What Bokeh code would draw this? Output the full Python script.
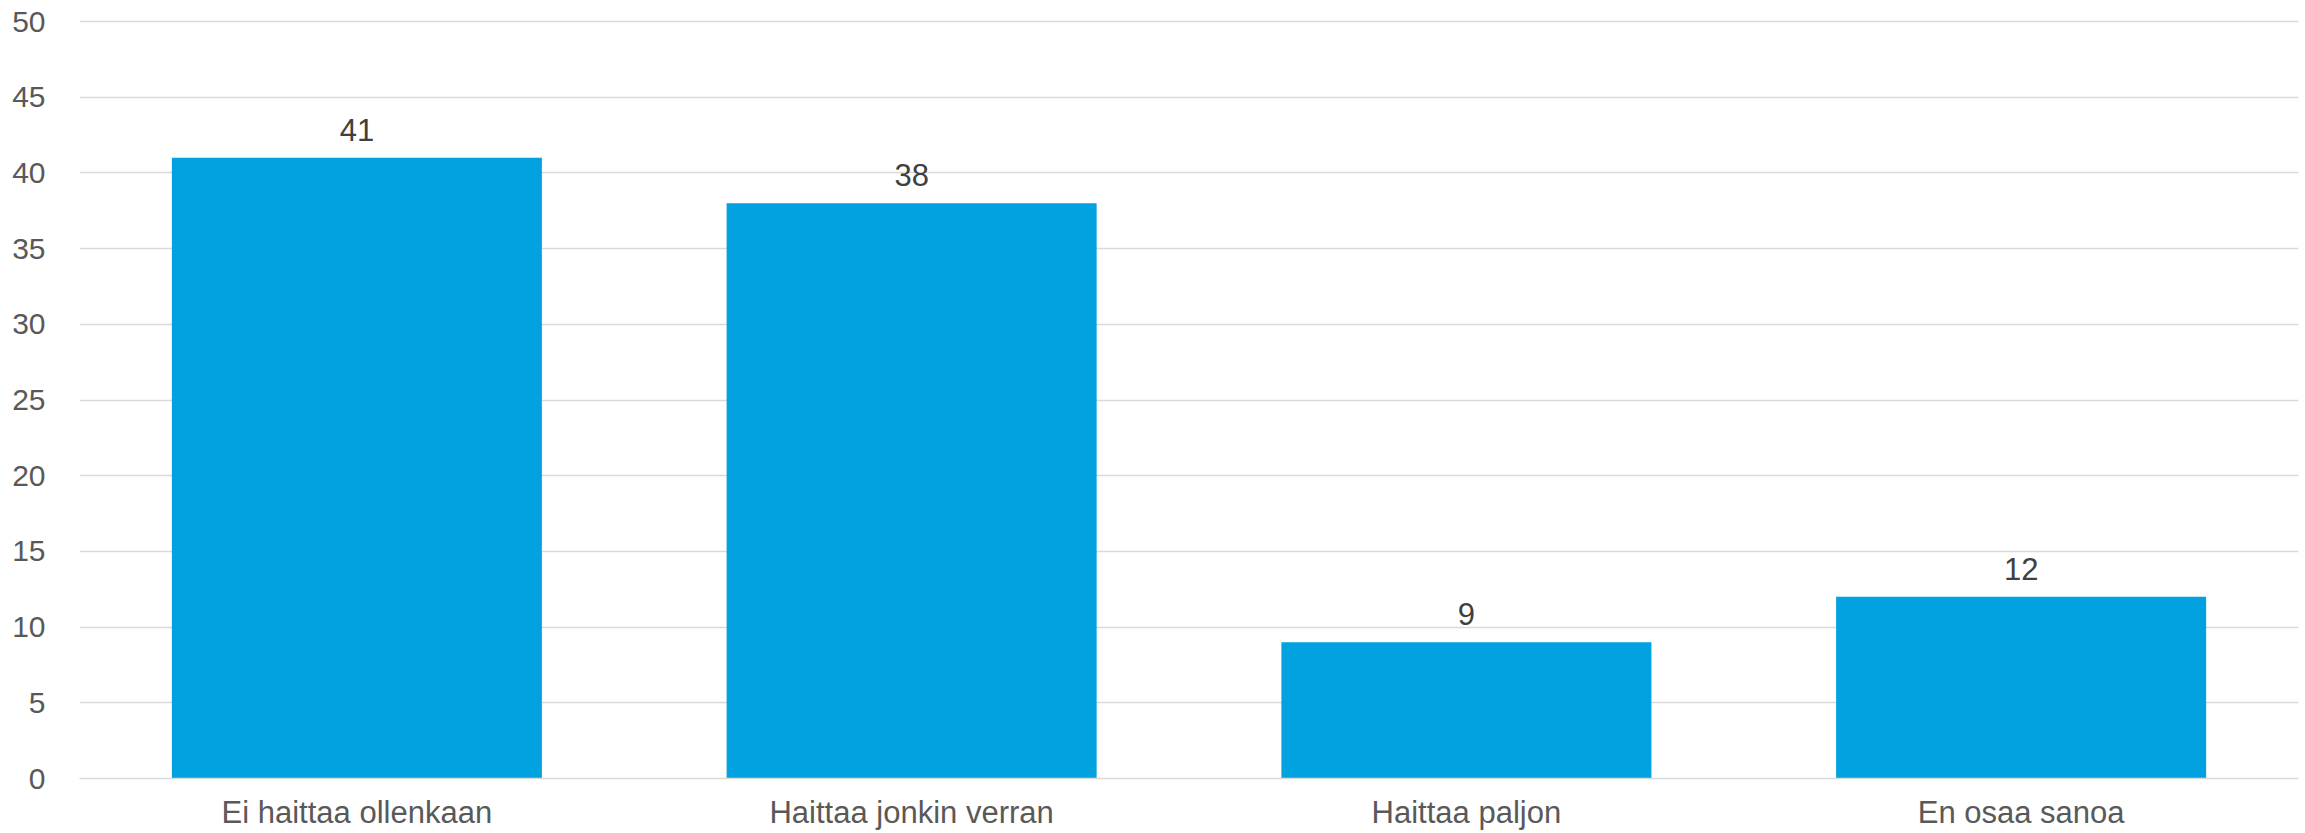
from bokeh.plotting import figure
from bokeh.models import ColumnDataSource, FactorRange, Range1d, FixedTicker
from bokeh.core.properties import value
from bokeh.embed import file_html
from bokeh.resources import INLINE

categories = ["Ei haittaa ollenkaan", "Haittaa jonkin verran", "Haittaa paljon", "En osaa sanoa"]
values = [41, 38, 9, 12]
y_ticks = [0, 5, 10, 15, 20, 25, 30, 35, 40, 45, 50]

src = ColumnDataSource(data=dict(cat=categories, val=values, lbl=[str(v) for v in values]))

p = figure(
    x_range=FactorRange(*categories, range_padding=0),
    y_range=Range1d(0, 50.53),
    width=2305, height=833,
    output_backend="svg", toolbar_location=None,
    min_border_left=79, min_border_right=7, min_border_top=13, min_border_bottom=55,
)
p.outline_line_color = None
p.background_fill_color = "white"
p.border_fill_color = "white"

p.vbar(x="cat", top="val", width=0.667, source=src, fill_color="#02A2E0", line_color=None)

p.text(x="cat", y="val", text="lbl", source=src, text_align="center", text_baseline="alphabetic",
       y_offset=-28, text_font=value("Liberation Sans"), text_font_size="31px", text_color="#404040")

p.xgrid.grid_line_color = None
p.ygrid.grid_line_color = "#D9D9D9"
p.ygrid.grid_line_width = 1.5
p.yaxis.ticker = FixedTicker(ticks=y_ticks)

for ax in (p.xaxis, p.yaxis):
    ax.major_tick_line_color = None
    ax.minor_tick_line_color = None
    ax.major_label_text_font = "Liberation Sans"
    ax.major_label_text_color = "#595959"

p.yaxis.major_label_text_font_size = "30px"
p.xaxis.major_label_text_font_size = "31px"
p.yaxis.axis_line_color = None
p.yaxis.major_label_standoff = 28
p.xaxis.axis_line_color = "#D9D9D9"
p.xaxis.axis_line_width = 1.5
p.xaxis.major_label_standoff = 10

open("out.html", "w").write(file_html(p, INLINE))
